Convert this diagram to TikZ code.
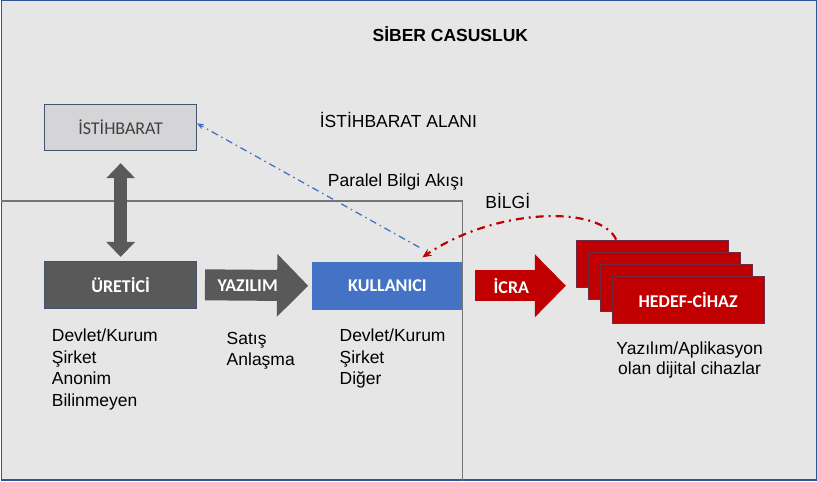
\documentclass[tikz,border=0pt]{standalone}
\usepackage{fontspec}
\setmainfont{Liberation Sans}
\newfontfamily\boxfont{Carlito}
\usetikzlibrary{arrows.meta}

\definecolor{bggray}{HTML}{E7E6E6}
\definecolor{framblue}{HTML}{2F5597}
\definecolor{linegray}{HTML}{767676}
\definecolor{boxgray}{HTML}{D5D4D6}
\definecolor{boxline}{HTML}{44546A}
\definecolor{darkgray}{HTML}{595959}
\definecolor{userblue}{HTML}{4472C4}
\definecolor{targetred}{HTML}{C00000}
\definecolor{targetline}{HTML}{6F2A47}

\begin{document}
\begin{tikzpicture}[x=1pt,y=-1pt,
    box/.style={minimum width=152pt, minimum height=47pt, inner sep=0pt, line width=0.8pt,
        font=\boxfont\fontsize{18}{20}\selectfont},
    boldbox/.style={box, text=white, font=\boxfont\bfseries\fontsize{18}{20}\selectfont},
    blockarrow/.style={line width=31pt, -{Triangle[length=31pt,width=63pt,line width=0pt]}},
    arrowlabel/.style={inner sep=0pt, text=white, font=\boxfont\bfseries\fontsize{18}{20}\selectfont},
    txt/.style={inner sep=0pt, font=\fontsize{17.5}{21.5}\selectfont}]

        % Background and frame
        \fill[bggray] (0,0) rectangle (817,481);
        \draw[framblue, line width=1.5pt] (0.75,0.75) rectangle (816.25,480.25);

        % Title
        \node[inner sep=0pt, anchor=base, font=\bfseries\fontsize{17.5}{20}\selectfont] (title) at (450,42) {SİBER CASUSLUK};

        % Area of the user
        \draw[linegray, line width=1.5pt] (0,201) -- (462,201) -- (462,481);

        % Boxes
        \node[box, fill=boxgray, draw=boxline, text=black!75] (istihbarat) at (120,127.5) {İSTİHBARAT};
        \node[boldbox, fill=darkgray, draw=boxline] (uretici) at (120,285) {ÜRETİCİ};
        \node[boldbox, minimum width=150pt, minimum height=48pt, fill=userblue] (kullanici) at (387,286) {KULLANICI};
        \foreach \i/\lbl in {1/,2/,3/,4/HEDEF-CİHAZ}
            \node[boldbox, fill=targetred, draw=targetline] (hedef\i) at ({640+12*\i},{251.5+12.2*\i}) {\lbl};

        % Block arrows
        \draw[darkgray, line width=13pt, {Triangle[length=15pt,width=29pt,line width=0pt]}-{Triangle[length=15pt,width=29pt,line width=0pt]},
            shorten <=12pt, shorten >=4pt] (istihbarat.south) -- (uretici.north);
        \draw[blockarrow, darkgray, shorten <=8pt, shorten >=4pt] (uretici.east) -- (kullanici.west)
            node[arrowlabel, pos=0.44] (yazilim) {YAZILIM};
        \draw[blockarrow, targetred, shorten <=12pt, shorten >=10pt] (kullanici.east) -- (kullanici.east -| hedef1.west)
            node[arrowlabel, pos=0.43] (icra) {İCRA};

        % Information flows
        \draw[userblue, line width=1.3pt, dash pattern=on 7pt off 4pt on 1.5pt off 4pt, -{Stealth[length=7pt,width=6pt]}]
            ([xshift=32pt,yshift=14pt]kullanici.north) -- ([yshift=4pt]istihbarat.east);
        \draw[targetred, line width=2.2pt, dash pattern=on 8pt off 5pt on 2pt off 5pt, -{Stealth[length=9pt,width=8pt]}]
            ([xshift=-36pt]hedef1.north) .. controls (600,205) and (495,208) .. ([xshift=35pt,yshift=4pt]kullanici.north);

        % Labels
        \node[txt, anchor=base] (alani) at (398,128) {İSTİHBARAT ALANI};
        \node[txt, anchor=base] (akis) at (395.5,187) {Paralel Bilgi Akışı};
        \node[txt, anchor=base] (bilgi) at (507.5,209) {BİLGİ};

        % Lists under the boxes
        \node[txt, align=left, anchor=north west] (ureticilist) at (51,329.4) {Devlet/Kurum\\Şirket\\Anonim\\Bilinmeyen};
        \node[txt, align=left, anchor=north west] (satislist) at (226,332.4) {Satış\\Anlaşma};
        \node[txt, align=left, anchor=north west] (kullanicilist) at (339,329.4) {Devlet/Kurum\\Şirket\\Diğer};
        \node[txt, align=center, anchor=north, font=\fontsize{17.5}{19.5}\selectfont] (hedeflist) at (689.5,342.4) {Yazılım/Aplikasyon\\olan dijital cihazlar};

\end{tikzpicture}
\end{document}
